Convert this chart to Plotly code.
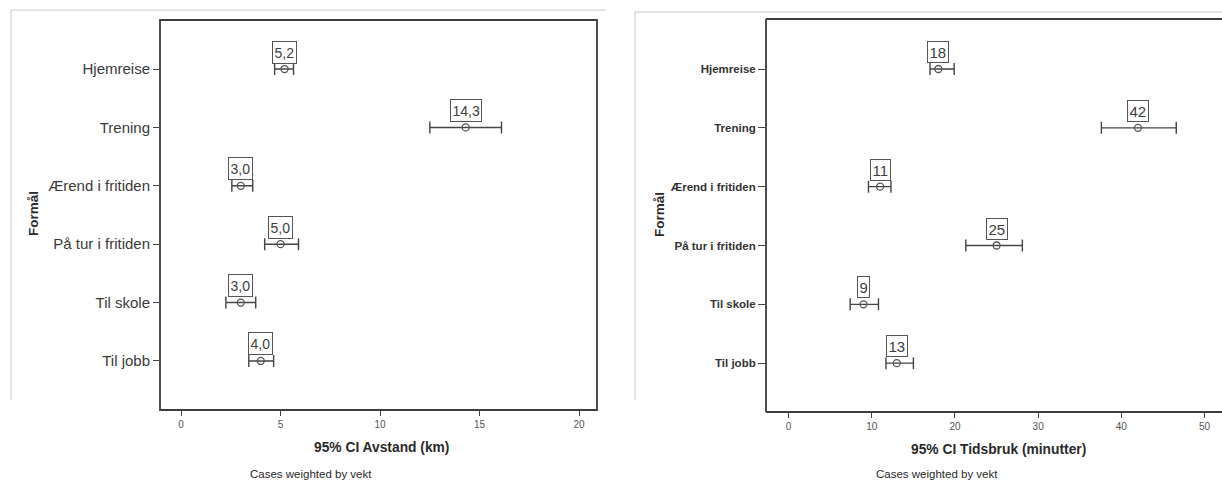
import plotly.graph_objects as go

# Trip purposes (Formål), top to bottom
categories = ["Hjemreise", "Trening", "Ærend i fritiden", "På tur i fritiden", "Til skole", "Til jobb"]

# Distance (km): mean with 95% confidence limits
dist_mean = [5.2, 14.3, 3.0, 5.0, 3.0, 4.0]
dist_low = [4.7, 12.5, 2.55, 4.2, 2.25, 3.4]
dist_high = [5.65, 16.1, 3.6, 5.9, 3.75, 4.65]

# Time use (minutes): mean with 95% confidence limits
time_mean = [18, 42, 11, 25, 9, 13]
time_low = [17.0, 37.6, 9.6, 21.3, 7.4, 11.7]
time_high = [19.9, 46.6, 12.3, 28.1, 10.8, 15.0]

dist_ticks = [0, 5, 10, 15, 20]
time_ticks = [0, 10, 20, 30, 40, 50]

W, H = 1222, 483
FONT = "Liberation Sans, Arial, sans-serif"
INK = "#3a3a3a"


def px(x):
    return x / W


def py(y):
    return 1 - y / H


fig = go.Figure()


def add_panel(means, lows, highs, xa, ya, label_fmt, label_size, box_h):
    fig.add_trace(go.Scatter(
        x=means, y=categories, xaxis=xa, yaxis=ya, mode="markers",
        marker=dict(symbol="circle-open", size=7, color="#555555", line=dict(width=1.3)),
        error_x=dict(type="data", symmetric=False,
                     array=[h - m for h, m in zip(highs, means)],
                     arrayminus=[m - l for m, l in zip(means, lows)],
                     color="#444444", thickness=1.4, width=6),
        showlegend=False, hoverinfo="skip",
    ))
    for m, c in zip(means, categories):
        fig.add_annotation(
            x=m, y=c, xref=xa, yref=ya, text=label_fmt(m),
            showarrow=False, yshift=17, height=box_h, valign="middle",
            font=dict(family=FONT, size=label_size, color="#404040"),
            bgcolor="white", bordercolor="#555555", borderwidth=1, borderpad=1.5,
        )


add_panel(dist_mean, dist_low, dist_high, "x", "y",
          lambda v: f"{v:.1f}".replace(".", ","), 14, 18)
add_panel(time_mean, time_low, time_high, "x2", "y2",
          lambda v: f"{v:.0f}", 15, 17)

axis_common = dict(showgrid=False, zeroline=False, showline=False, ticks="outside",
                   tickcolor="#444444", tickwidth=1.4)

fig.update_layout(
    width=W, height=H, margin=dict(l=0, r=0, t=0, b=0),
    paper_bgcolor="white", plot_bgcolor="white",
    xaxis=dict(domain=[px(160), px(597)], range=[-1.06, 20.9], tickvals=dist_ticks,
               ticklen=5, tickfont=dict(family=FONT, size=10, color="#555555"),
               anchor="y", **axis_common),
    yaxis=dict(domain=[py(410), py(20)], type="category", categoryorder="array",
               categoryarray=categories, range=[5.84, -0.84], ticklen=6,
               tickfont=dict(family=FONT, size=15, color=INK), anchor="x", **axis_common),
    xaxis2=dict(domain=[px(766), 1.0], range=[-2.72, 52.1], tickvals=time_ticks,
                ticklen=5, tickfont=dict(family=FONT, size=10, color="#555555"),
                anchor="y2", **axis_common),
    yaxis2=dict(domain=[py(412), py(19)], type="category", categoryorder="array",
                categoryarray=categories, range=[5.83, -0.85], ticklen=7,
                tickfont=dict(family=FONT, size=11.5, color="#333333", weight="bold"),
                anchor="x2", **axis_common),
)

# Plot frames and outer chart borders
frame = dict(color="#3c3c3c", width=1.8)
outer = dict(color="#c8c8c8", width=1)
shapes = [
    dict(type="rect", xref="paper", yref="paper", x0=px(160), x1=px(597),
         y0=py(410), y1=py(20), line=frame),
    dict(type="line", xref="paper", yref="paper", x0=px(766), x1=px(766),
         y0=py(412), y1=py(19), line=frame),
    dict(type="line", xref="paper", yref="paper", x0=px(766), x1=1.0,
         y0=py(412), y1=py(412), line=frame),
    dict(type="line", xref="paper", yref="paper", x0=px(766), x1=1.0,
         y0=py(19), y1=py(19), line=frame),
    dict(type="line", xref="paper", yref="paper", x0=px(11), x1=px(606),
         y0=py(10), y1=py(10), line=outer),
    dict(type="line", xref="paper", yref="paper", x0=px(11), x1=px(11),
         y0=py(10), y1=py(400), line=outer),
    dict(type="line", xref="paper", yref="paper", x0=px(635), x1=1.0,
         y0=py(12), y1=py(12), line=outer),
    dict(type="line", xref="paper", yref="paper", x0=px(635), x1=px(635),
         y0=py(12), y1=py(400), line=outer),
]
fig.update_layout(shapes=shapes)

# Axis titles and footnotes
texts = [
    (381, 447, "95% CI Avstand (km)", 13.8, True, 0),
    (998, 449, "95% CI Tidsbruk (minutter)", 13.8, True, 0),
    (311, 474, "Cases weighted by vekt", 11.5, False, 0),
    (937, 474, "Cases weighted by vekt", 11.5, False, 0),
    (33, 214, "Formål", 13.5, True, -90),
    (659, 215, "Formål", 13.5, True, -90),
]
for x, y, t, s, bold, ang in texts:
    fig.add_annotation(
        x=px(x), y=py(y), xref="paper", yref="paper", showarrow=False,
        text=f"<b>{t}</b>" if bold else t, textangle=ang,
        xanchor="center", yanchor="middle",
        font=dict(family=FONT, size=s, color="#2a2a2a"),
    )

fig.write_html("out.html")
